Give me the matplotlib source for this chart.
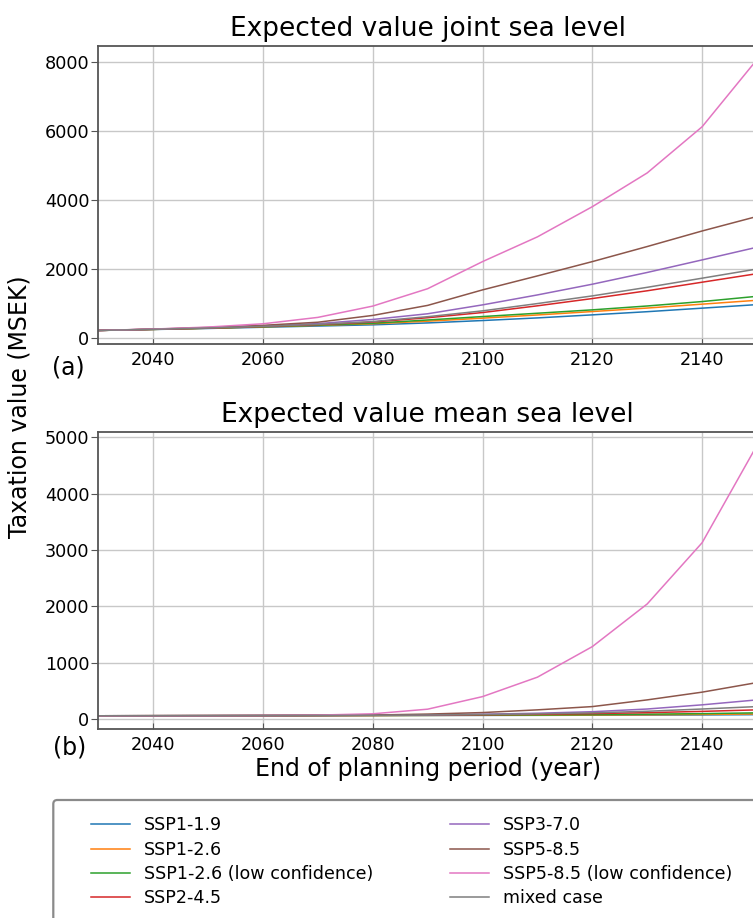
import numpy as np
import matplotlib
matplotlib.use("Agg")
import matplotlib.pyplot as plt
from matplotlib.patches import FancyBboxPatch
from matplotlib.transforms import IdentityTransform

# end of planning period
years = [2030, 2040, 2050, 2060, 2070, 2080, 2090, 2100, 2110, 2120, 2130, 2140, 2150]

labels = ['SSP1-1.9', 'SSP1-2.6', 'SSP1-2.6 (low confidence)', 'SSP2-4.5',
          'SSP3-7.0', 'SSP5-8.5', 'SSP5-8.5 (low confidence)', 'mixed case']

# expected value, joint sea level (MSEK)
joint_ssp119 = [222, 250, 280, 315, 350, 385, 440, 509, 585, 673, 765, 867, 970]
joint_ssp126 = [222, 252, 286, 327, 370, 415, 490, 578, 670, 769, 870, 983, 1095]
joint_ssp126_low = [222, 253, 288, 330, 375, 430, 525, 624, 720, 818, 930, 1058, 1210]
joint_ssp245 = [222, 255, 292, 338, 390, 465, 590, 740, 935, 1145, 1370, 1618, 1865]
joint_ssp370 = [222, 258, 300, 352, 420, 540, 705, 962, 1250, 1560, 1900, 2263, 2630]
joint_ssp585 = [222, 260, 308, 370, 460, 657, 947, 1396, 1800, 2214, 2650, 3100, 3520]
joint_ssp585_low = [222, 262, 320, 415, 600, 927, 1430, 2214, 2930, 3803, 4780, 6115, 8060]
joint_mixed = [222, 256, 295, 342, 398, 480, 620, 789, 1000, 1222, 1470, 1734, 2000]

# expected value, mean sea level (MSEK)
mean_ssp119 = [60, 61, 62, 63, 64, 65, 66, 67, 68, 70, 72, 75, 80]
mean_ssp126 = [60, 61, 62, 63, 64, 65, 67, 69, 71, 74, 78, 84, 92]
mean_ssp126_low = [60, 61, 62, 63, 64, 66, 68, 71, 75, 80, 88, 98, 112]
mean_ssp245 = [60, 61, 62, 63, 65, 67, 71, 77, 86, 98, 115, 138, 165]
mean_ssp370 = [60, 61, 62, 64, 66, 70, 77, 88, 105, 132, 180, 254, 342]
mean_ssp585 = [60, 61, 62, 64, 67, 73, 90, 117, 165, 223, 342, 479, 649]
mean_ssp585_low = [60, 61, 62, 65, 72, 95, 177, 400, 745, 1287, 2044, 3130, 4860]
mean_mixed = [60, 61, 62, 64, 66, 69, 74, 82, 94, 112, 140, 180, 223]

joint = [joint_ssp119, joint_ssp126, joint_ssp126_low, joint_ssp245,
         joint_ssp370, joint_ssp585, joint_ssp585_low, joint_mixed]
mean = [mean_ssp119, mean_ssp126, mean_ssp126_low, mean_ssp245,
        mean_ssp370, mean_ssp585, mean_ssp585_low, mean_mixed]

colors = plt.get_cmap('tab10').colors
colors = [colors[0], colors[1], colors[2], colors[3],
          colors[4], colors[5], colors[6], colors[7]]

W, H = 753, 918
fig = plt.figure(figsize=(W / 100, H / 100), dpi=100)

spine_c = '#555555'


def setup(ax, title):
    ax.set_title(title, fontsize=19, pad=7)
    ax.set_xlim(2030, 2150)
    ax.set_xticks([2040, 2060, 2080, 2100, 2120, 2140])
    ax.grid(True, color='#c8c8c8', linewidth=1.0)
    ax.set_axisbelow(True)
    ax.tick_params(axis='x', direction='in', labelsize=12.7, pad=5,
                   color=spine_c, length=4)
    ax.tick_params(axis='y', direction='out', labelsize=12.7, pad=1.5,
                   color=spine_c, length=5)
    for s in ax.spines.values():
        s.set_color(spine_c)
        s.set_linewidth(1.3)


# (a) joint sea level
ax1 = fig.add_axes([98.3 / W, 1 - 344 / H, (757 - 98.3) / W, 298 / H])
for vals, lab, c in zip(joint, labels, colors):
    ax1.plot(years, vals, color=c, linewidth=1.1, label=lab)
setup(ax1, 'Expected value joint sea level')

# (b) mean sea level
ax2 = fig.add_axes([98.3 / W, 1 - 729.3 / H, (757 - 98.3) / W, 297.6 / H])
for vals, lab, c in zip(mean, labels, colors):
    ax2.plot(years, vals, color=c, linewidth=1.1, label=lab)
setup(ax2, 'Expected value mean sea level')
ax2.set_xlabel('End of planning period (year)', fontsize=17, labelpad=2)

fig.text(20 / W, 1 - 407 / H, 'Taxation value (MSEK)', rotation=90,
         fontsize=17, ha='center', va='center')
fig.text(52 / W, 1 - 368 / H, '(a)', fontsize=17, ha='left', va='center')
fig.text(53 / W, 1 - 748 / H, '(b)', fontsize=17, ha='left', va='center')

handles, labs = ax1.get_legend_handles_labels()
fig.legend(handles, labs, ncol=2, loc='upper left',
           bbox_to_anchor=(75.7 / W, 1 - 800.7 / H), frameon=False,
           fontsize=12.6, handlelength=2.2, handletextpad=0.8,
           columnspacing=4.4, labelspacing=0.36)

# legend frame, wider than the legend itself
frame = FancyBboxPatch((53.3, -30), 760, H - 800 + 30,
                       boxstyle='round,pad=0,rounding_size=4',
                       transform=IdentityTransform(), facecolor='none',
                       edgecolor='#8a8a8a', linewidth=1.6)
fig.patches.append(frame)

fig.savefig('out.png', dpi=100)
